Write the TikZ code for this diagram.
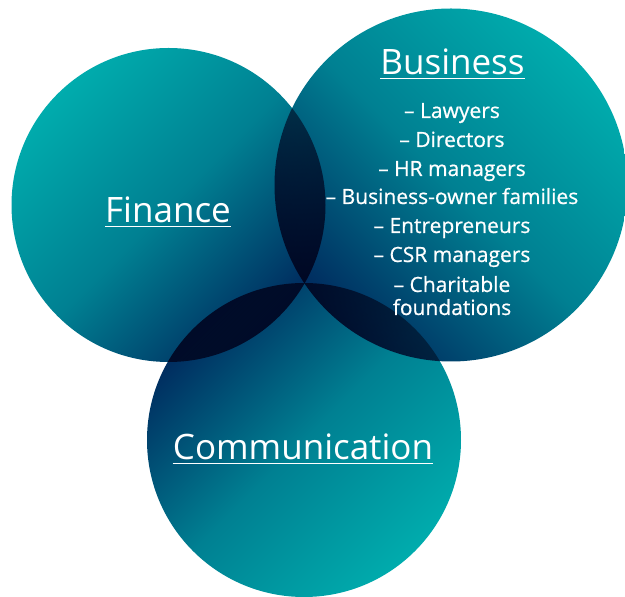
\documentclass[tikz,border=0pt]{standalone}
\usepackage{fontspec}
\setmainfont{Open Sans}
\newfontfamily\itemfont{Open Sans}[FakeBold=0.7]
\definecolor{tealL}{HTML}{00ACAD}
\definecolor{tealM}{HTML}{008092}
\definecolor{navyD}{HTML}{002A5E}
\begin{document}
\begin{tikzpicture}[x=1pt,y=1pt,
  head/.style={text=white, font=\fontsize{35}{40}\selectfont, inner sep=0pt, anchor=base},
  item/.style={text=white, font=\itemfont\fontsize{21}{25}\selectfont, inner sep=0pt, anchor=base},
  uline/.style={draw=white, line width=1.8pt}]
\useasboundingbox (0,0) rectangle (625,597);
\begin{scope}[blend mode=multiply]
  \shade[top color=tealL, bottom color=navyD, middle color=tealM, shading angle=45] (168.5,392) circle (157);
  \shade[top color=tealL, bottom color=navyD, middle color=tealM, shading angle=-45] (451,412) circle (176.5);
  \shade[top color=navyD, bottom color=tealL, middle color=tealM, shading angle=45] (304,157) circle (157);
\end{scope}
\node[head] (fin) at (168,374) {Finance};
\node[head] (bus) at (452.5,522) {Business};
\node[head] (com) at (303,137) {Communication};
\foreach \n in {fin,bus,com}{
  \draw[uline] ([yshift=-3.5pt]\n.base west) -- ([yshift=-3.5pt]\n.base east);
}
\node[item] (l1) at (452,479) {– Lawyers};
\node[item] (l2) at (452,450) {– Directors};
\node[item] (l3) at (452,421) {– HR managers};
\node[item] (l4) at (452,393) {– Business-owner families};
\node[item] (l5) at (452,364) {– Entrepreneurs};
\node[item] (l6) at (452,335) {– CSR managers};
\node[item] (l7) at (452,305) {– Charitable};
\node[item] (l8) at (452,282) {foundations};
\end{tikzpicture}
\end{document}
